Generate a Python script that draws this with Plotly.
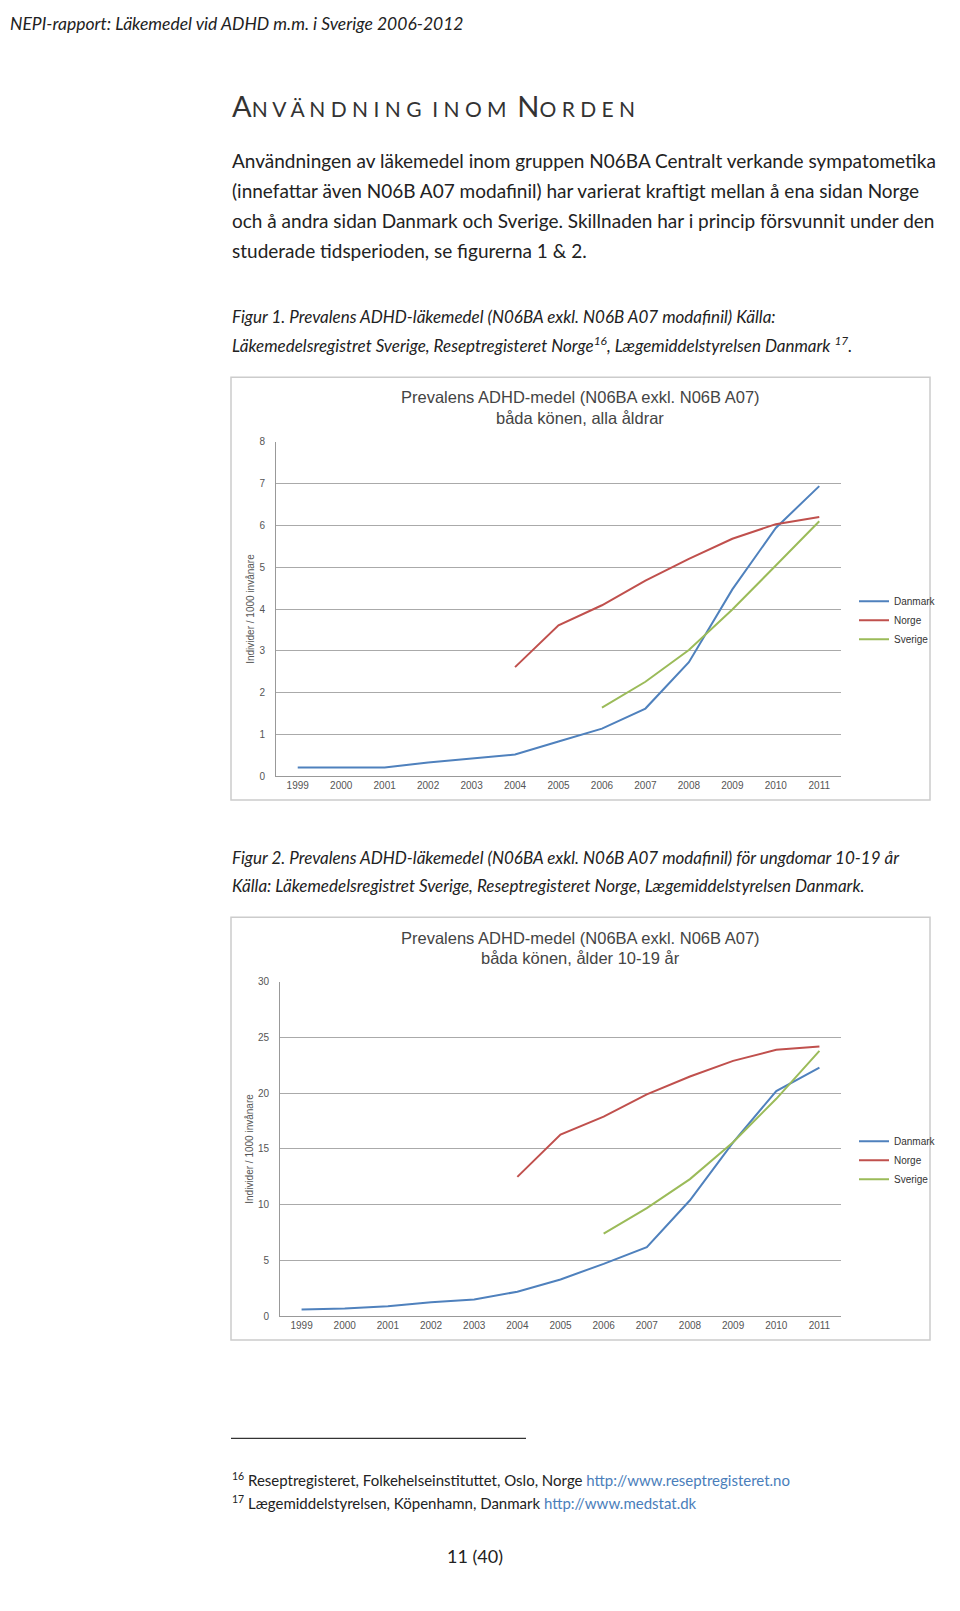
import plotly.graph_objects as go

years = [1999, 2000, 2001, 2002, 2003, 2004, 2005, 2006, 2007, 2008, 2009, 2010, 2011]
tick_labels = [str(y) for y in years]

# Figure 1 (all ages)
dk1 = [0.21, 0.21, 0.21, 0.33, 0.43, 0.52, 0.83, 1.14, 1.62, 2.73, 4.47, 5.94, 6.94]
no1_years = [2004, 2005, 2006, 2007, 2008, 2009, 2010, 2011]
no1 = [2.61, 3.61, 4.09, 4.68, 5.2, 5.68, 6.03, 6.2]
se1_years = [2006, 2007, 2008, 2009, 2010, 2011]
se1 = [1.64, 2.26, 3.02, 3.99, 5.04, 6.1]

# Figure 2 (ages 10-19)
dk2 = [0.6, 0.7, 0.9, 1.25, 1.5, 2.2, 3.3, 4.7, 6.2, 10.4, 15.6, 20.2, 22.3]
no2_years = [2004, 2005, 2006, 2007, 2008, 2009, 2010, 2011]
no2 = [12.5, 16.3, 17.9, 19.9, 21.5, 22.9, 23.9, 24.2]
se2_years = [2006, 2007, 2008, 2009, 2010, 2011]
se2 = [7.4, 9.7, 12.3, 15.6, 19.5, 23.8]

C_DK, C_NO, C_SE = "#4f81bd", "#c0504d", "#9bbb59"
W, H = 960, 1611
def px(x): return x / W
def py(y): return 1 - y / H

fig = go.Figure()
for (xs, ys, name, c) in [(years, dk1, "Danmark", C_DK), (no1_years, no1, "Norge", C_NO), (se1_years, se1, "Sverige", C_SE)]:
    fig.add_trace(go.Scatter(x=xs, y=ys, name=name, mode="lines", line=dict(color=c, width=2),
                             xaxis="x", yaxis="y", legend="legend"))
for (xs, ys, name, c) in [(years, dk2, "Danmark", C_DK), (no2_years, no2, "Norge", C_NO), (se2_years, se2, "Sverige", C_SE)]:
    fig.add_trace(go.Scatter(x=xs, y=ys, name=name, mode="lines", line=dict(color=c, width=2),
                             xaxis="x2", yaxis="y2", legend="legend2"))

axfont = dict(family="Liberation Sans", size=10, color="#555")
xcommon = dict(range=[1998.5, 2011.5], tickvals=years, ticktext=tick_labels, showgrid=False,
               showline=True, linecolor="#999", ticks="", tickfont=axfont, zeroline=False, fixedrange=True)
ycommon = dict(showgrid=True, gridcolor="#aaa", showline=True, linecolor="#999", ticks="",
               tickfont=axfont, zeroline=False, ticklabelstandoff=8,
               title=dict(text="Individer / 1000 invånare", font=dict(family="Liberation Sans", size=10, color="#555"), standoff=2))

fig.update_layout(
    width=W, height=H, margin=dict(l=0, r=0, t=0, b=0),
    paper_bgcolor="white", plot_bgcolor="white",
    xaxis=dict(domain=[px(268), px(833)], anchor="y", **xcommon),
    yaxis=dict(domain=[py(768), py(431)], anchor="x", range=[0, 8], dtick=1, **ycommon),
    xaxis2=dict(domain=[px(272), px(833)], anchor="y2", **xcommon),
    yaxis2=dict(domain=[py(1312), py(975)], anchor="x2", range=[0, 30], dtick=5, **ycommon),
    legend=dict(x=px(846), y=py(577), xanchor="left", yanchor="top", font=dict(family="Liberation Sans", size=10, color="#333"),
                itemwidth=30, tracegroupgap=0, bgcolor="rgba(0,0,0,0)"),
    legend2=dict(x=px(846), y=py(1121), xanchor="left", yanchor="top", font=dict(family="Liberation Sans", size=10, color="#333"),
                 itemwidth=30, tracegroupgap=0, bgcolor="rgba(0,0,0,0)"),
    showlegend=True,
)

shapes = [
    dict(type="rect", xref="paper", yref="paper", x0=px(223), x1=px(922), y0=py(366), y1=py(792), line=dict(color="#ccc", width=1.5)),
    dict(type="rect", xref="paper", yref="paper", x0=px(223), x1=px(922), y0=py(910), y1=py(1336), line=dict(color="#ccc", width=1.5)),
    dict(type="line", xref="paper", yref="paper", x0=px(223), x1=px(518), y0=py(1435), y1=py(1435), line=dict(color="black", width=1)),
]
fig.update_layout(shapes=shapes)

body = dict(family="Lato", size=19, color="#222")
ital = dict(family="Lato", size=17, color="#222")
ann = []
def T(x, y, text, font, xanchor="left"):
    ann.append(dict(xref="paper", yref="paper", x=px(x), y=py(y), text=text, showarrow=False,
                    xanchor=xanchor, yanchor="middle", font=font, align="left"))

T(0, 10, "<i>NEPI-rapport: Läkemedel vid ADHD m.m. i Sverige 2006-2012</i>", dict(family="Lato", size=17.5, color="#222"))
T(222, 92, "<span style='font-size:29px'>A</span>N V Ä N D N I N G  I N O M  <span style='font-size:29px'>N</span>O R D E N",
  dict(family="Lato", size=21, color="#333"))
lines = ["Användningen av läkemedel inom gruppen N06BA Centralt verkande sympatometika",
         "(innefattar även N06B A07 modafinil) har varierat kraftigt mellan å ena sidan Norge",
         "och å andra sidan Danmark och Sverige. Skillnaden har i princip försvunnit under den",
         "studerade tidsperioden, se figurerna 1 &amp; 2."]
for i, l in enumerate(lines):
    T(222, 148 + 30 * i, l, body)
T(222, 305, "<i>Figur 1. Prevalens ADHD-läkemedel (N06BA exkl. N06B A07 modafinil) Källa:</i>", ital)
T(222, 333, "<i>Läkemedelsregistret Sverige, Reseptregisteret Norge<sup>16</sup>, Lægemiddelstyrelsen Danmark <sup>17</sup>.</i>", ital)
T(222, 850, "<i>Figur 2. Prevalens ADHD-läkemedel (N06BA exkl. N06B A07 modafinil) för ungdomar 10-19 år</i>", ital)
T(222, 878, "<i>Källa: Läkemedelsregistret Sverige, Reseptregisteret Norge, Lægemiddelstyrelsen Danmark.</i>", ital)

tf = dict(family="Liberation Sans", size=16.5, color="#444")
T(572, 386, "Prevalens ADHD-medel (N06BA exkl. N06B A07)", tf, "center")
T(572, 407, "båda könen, alla åldrar", tf, "center")
T(572, 931, "Prevalens ADHD-medel (N06BA exkl. N06B A07)", tf, "center")
T(572, 951, "båda könen, ålder 10-19 år", tf, "center")

fn = dict(family="Lato", size=15, color="#222")
T(222, 1476, "<sup>16</sup> Reseptregisteret, Folkehelseinstituttet, Oslo, Norge <span style='color:#4a7ebb'>http://www.reseptregisteret.no</span>", fn)
T(222, 1500, "<sup>17</sup> Lægemiddelstyrelsen, Köpenhamn, Danmark <span style='color:#4a7ebb'>http://www.medstat.dk</span>", fn)
T(467, 1554, "11 (40)", dict(family="Lato", size=18, color="#222"), "center")
fig.update_layout(annotations=ann)

fig.write_html("out.html")
